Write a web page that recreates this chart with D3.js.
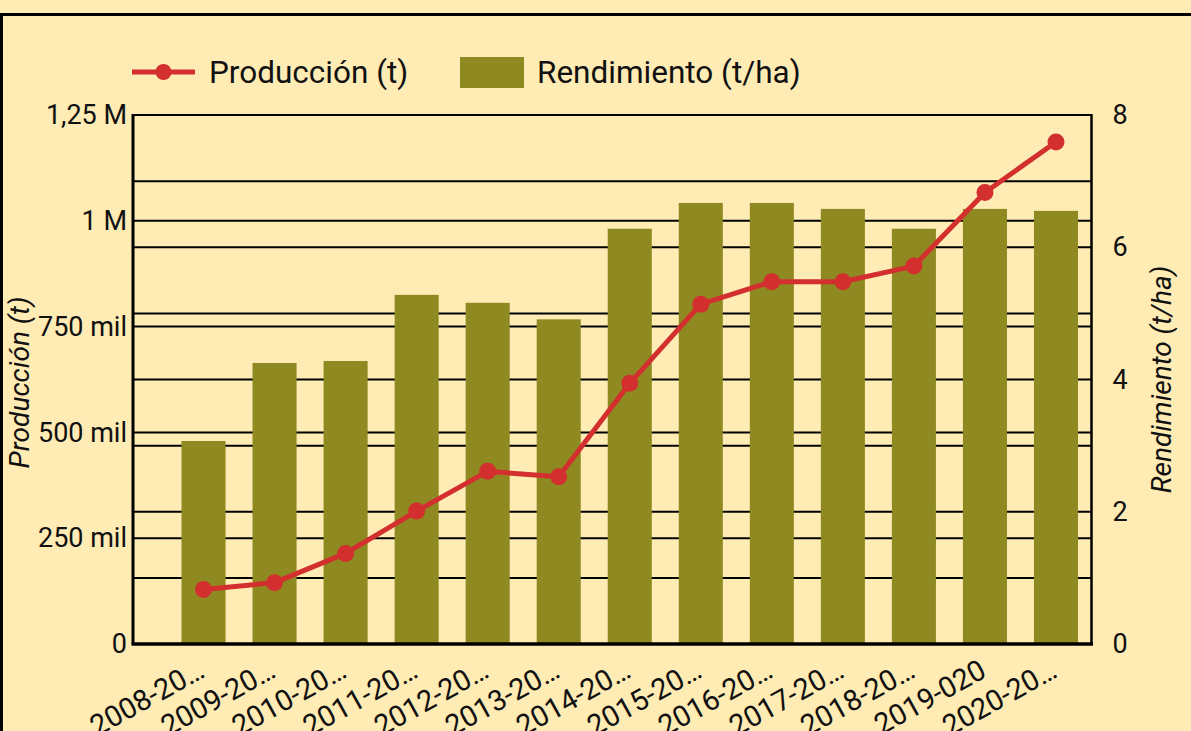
<!DOCTYPE html>
<html lang="es">
<head>
<meta charset="UTF-8">
<title>Producción y rendimiento</title>
<script src="https://cdnjs.cloudflare.com/ajax/libs/d3/7.8.5/d3.min.js"></script>
<style>
  html, body { margin: 0; padding: 0; background: #ffebb4; }
  svg { display: block; font-family: Roboto, "Noto Sans", sans-serif; }
</style>
</head>
<body>
<div id="chart"></div>
<script>
// campañas (etiquetas tal como se ven, recortadas)
var campanas = ["2008-20…", "2009-20…", "2010-20…", "2011-20…", "2012-20…", "2013-20…",
                "2014-20…", "2015-20…", "2016-20…", "2017-20…", "2018-20…", "2019-020", "2020-20…"];
// Producción (t)
var produccion = [129000, 145000, 214000, 314000, 408000, 395000,
                  616000, 803000, 856000, 856000, 893000, 1067000, 1186000];
// Rendimiento (t/ha)
var rendimiento = [3.07, 4.25, 4.28, 5.28, 5.16, 4.91,
                   6.28, 6.67, 6.67, 6.58, 6.28, 6.58, 6.55];

var leftTicks = [0, 250000, 500000, 750000, 1000000, 1250000];
var leftTickLabels = ["0", "250 mil", "500 mil", "750 mil", "1 M", "1,25 M"];
var rightTicks = [0, 2, 4, 6, 8];
var rightGrid = [1, 2, 3, 4, 5, 6, 7, 8];

var width = 1191, height = 731;
var bg = "#ffebb4", barColor = "#8e8920", lineColor = "#d32f2f";
var plotL = 133, plotR = 1091.5, plotT = 115, plotB = 644;

var svg = d3.select("#chart").append("svg")
  .attr("width", width)
  .attr("height", height);

svg.append("rect").attr("width", width).attr("height", height).attr("fill", bg);
svg.append("rect")
  .attr("x", 1.5).attr("y", 14.5)
  .attr("width", 1300).attr("height", 800)
  .attr("fill", "none").attr("stroke", "#000").attr("stroke-width", 3);

var x = d3.scaleBand()
  .domain(campanas)
  .range([168, plotR])
  .paddingInner(0.38)
  .paddingOuter(0.19);

var yL = d3.scaleLinear().domain([0, 1250000]).range([plotB, plotT]);
var yR = d3.scaleLinear().domain([0, 8]).range([plotB, plotT]);

// grid lines
var grid = svg.append("g").attr("stroke", "#000").attr("stroke-width", 2);
grid.selectAll("line.gl").data(leftTicks).enter().append("line")
  .attr("x1", plotL).attr("x2", plotR)
  .attr("y1", function(d) { return yL(d); })
  .attr("y2", function(d) { return yL(d); });
grid.selectAll("line.gr").data(rightGrid).enter().append("line")
  .attr("x1", plotL).attr("x2", plotR)
  .attr("y1", function(d) { return yR(d); })
  .attr("y2", function(d) { return yR(d); });

// bars
svg.append("g").selectAll("rect")
  .data(rendimiento)
  .enter().append("rect")
  .attr("x", function(d, i) { return x(campanas[i]); })
  .attr("width", x.bandwidth())
  .attr("y", function(d) { return yR(d); })
  .attr("height", function(d) { return plotB - yR(d); })
  .attr("fill", barColor);

// axes frame
svg.append("line").attr("x1", plotL).attr("x2", plotL).attr("y1", plotT - 1).attr("y2", plotB)
  .attr("stroke", "#000").attr("stroke-width", 3);
svg.append("line").attr("x1", plotR).attr("x2", plotR).attr("y1", plotT - 1).attr("y2", plotB)
  .attr("stroke", "#000").attr("stroke-width", 2.5);
svg.append("line").attr("x1", plotL - 1.5).attr("x2", plotR + 1.5).attr("y1", plotB).attr("y2", plotB)
  .attr("stroke", "#000").attr("stroke-width", 3.5);

// left axis
var axL = svg.append("g")
  .attr("transform", "translate(" + plotL + ",0)")
  .call(d3.axisLeft(yL).tickValues(leftTicks).tickSize(0).tickPadding(6)
    .tickFormat(function(d, i) { return leftTickLabels[i]; }));
axL.select(".domain").remove();
axL.selectAll("text").attr("font-size", 27).attr("fill", "#111").attr("font-family", "Roboto");

// right axis
var axR = svg.append("g")
  .attr("transform", "translate(" + plotR + ",0)")
  .call(d3.axisRight(yR).tickValues(rightTicks).tickSize(0).tickPadding(21)
    .tickFormat(d3.format("d")));
axR.select(".domain").remove();
axR.selectAll("text").attr("font-size", 27).attr("fill", "#111").attr("font-family", "Roboto");

// x axis labels
var axB = svg.append("g")
  .attr("transform", "translate(0," + plotB + ")")
  .call(d3.axisBottom(x).tickSize(0).tickPadding(0));
axB.select(".domain").remove();
axB.selectAll("text")
  .attr("font-size", 29).attr("fill", "#111").attr("font-family", "Roboto")
  .attr("text-anchor", "end")
  .attr("dy", 0)
  .attr("y", 0)
  .attr("transform", "translate(3,32) rotate(-29)");

// axis titles
svg.append("text")
  .attr("transform", "translate(29," + ((plotT + plotB) / 2 + 3) + ") rotate(-90)")
  .attr("text-anchor", "middle")
  .attr("font-size", 28).attr("font-style", "italic").attr("fill", "#111")
  .text("Producción (t)");
svg.append("text")
  .attr("transform", "translate(1171," + ((plotT + plotB) / 2) + ") rotate(-90)")
  .attr("text-anchor", "middle")
  .attr("font-size", 28).attr("font-style", "italic").attr("fill", "#111")
  .text("Rendimiento (t/ha)");

// production line
var line = d3.line()
  .x(function(d, i) { return x(campanas[i]) + x.bandwidth() / 2; })
  .y(function(d) { return yL(d); });
svg.append("path")
  .datum(produccion)
  .attr("d", line)
  .attr("fill", "none")
  .attr("stroke", lineColor)
  .attr("stroke-width", 5)
  .attr("stroke-linejoin", "round");
svg.append("g").selectAll("circle")
  .data(produccion)
  .enter().append("circle")
  .attr("cx", function(d, i) { return x(campanas[i]) + x.bandwidth() / 2; })
  .attr("cy", function(d) { return yL(d); })
  .attr("r", 8.5)
  .attr("fill", lineColor);

// legend
var lg = svg.append("g").attr("font-size", 31.5).attr("fill", "#111");
lg.append("line").attr("x1", 132).attr("x2", 195).attr("y1", 72).attr("y2", 72)
  .attr("stroke", lineColor).attr("stroke-width", 5);
lg.append("circle").attr("cx", 163.5).attr("cy", 72).attr("r", 8).attr("fill", lineColor);
lg.append("text").attr("x", 209).attr("y", 83).text("Producción (t)");
lg.append("rect").attr("x", 460).attr("y", 57).attr("width", 64).attr("height", 31).attr("fill", barColor);
lg.append("text").attr("x", 537).attr("y", 83).text("Rendimiento (t/ha)");
</script>
</body>
</html>
